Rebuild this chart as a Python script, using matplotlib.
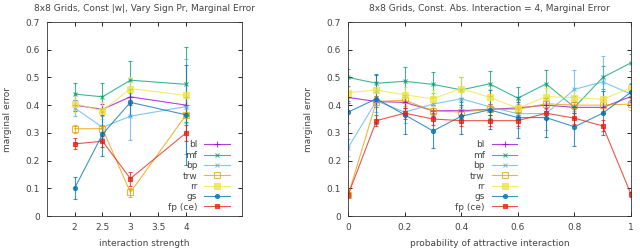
import numpy as np
import matplotlib

matplotlib.use("Agg")
import matplotlib.pyplot as plt
from matplotlib.lines import Line2D

# left panel: vary interaction strength
strength = [2, 2.5, 3, 4]
left_vals = {
    "bl": [0.400, 0.385, 0.430, 0.400],
    "mf": [0.440, 0.430, 0.490, 0.475],
    "bp": [0.390, 0.320, 0.360, 0.395],
    "trw": [0.315, 0.315, 0.085, 0.365],
    "rr": [0.405, 0.380, 0.460, 0.435],
    "gs": [0.100, 0.295, 0.410, 0.365],
    "fp (ce)": [0.260, 0.270, 0.135, 0.300],
}
left_errs = {
    "bl": [0.020, 0.020, 0.030, 0.030],
    "mf": [0.040, 0.050, 0.070, 0.135],
    "bp": [0.030, 0.040, 0.085, 0.170],
    "trw": [0.015, 0.015, 0.015, 0.030],
    "rr": [0.030, 0.030, 0.040, 0.050],
    "gs": [0.040, 0.080, 0.050, 0.180],
    "fp (ce)": [0.020, 0.020, 0.025, 0.030],
}

# right panel: vary probability of attractive interaction
prob = [0.0, 0.1, 0.2, 0.3, 0.4, 0.5, 0.6, 0.7, 0.8, 0.9, 1.0]
right_vals = {
    "bl": [0.428, 0.413, 0.410, 0.380, 0.380, 0.385, 0.390, 0.400, 0.392, 0.392, 0.431],
    "mf": [0.500, 0.479, 0.486, 0.475, 0.455, 0.477, 0.425, 0.477, 0.392, 0.500, 0.553],
    "bp": [0.247, 0.415, 0.375, 0.404, 0.423, 0.394, 0.369, 0.370, 0.457, 0.484, 0.440],
    "trw": [0.075, 0.413, 0.418, 0.379, 0.375, 0.385, 0.385, 0.405, 0.400, 0.400, 0.404],
    "rr": [0.445, 0.455, 0.437, 0.423, 0.460, 0.428, 0.389, 0.431, 0.427, 0.421, 0.463],
    "gs": [0.375, 0.423, 0.365, 0.307, 0.360, 0.383, 0.355, 0.355, 0.322, 0.371, 0.447],
    "fp (ce)": [0.076, 0.344, 0.371, 0.350, 0.344, 0.344, 0.344, 0.371, 0.353, 0.325, 0.078],
}
right_errs = {
    "bl": [0.020, 0.020, 0.020, 0.020, 0.020, 0.020, 0.020, 0.020, 0.020, 0.020, 0.020],
    "mf": [0.030, 0.030, 0.050, 0.045, 0.045, 0.045, 0.040, 0.050, 0.040, 0.040, 0.030],
    "bp": [0.030, 0.040, 0.040, 0.040, 0.040, 0.040, 0.050, 0.060, 0.070, 0.095, 0.040],
    "trw": [0.010, 0.020, 0.020, 0.020, 0.020, 0.020, 0.020, 0.020, 0.020, 0.020, 0.020],
    "rr": [0.020, 0.030, 0.030, 0.030, 0.040, 0.030, 0.030, 0.030, 0.030, 0.030, 0.030],
    "gs": [0.040, 0.090, 0.070, 0.060, 0.065, 0.070, 0.075, 0.070, 0.070, 0.080, 0.030],
    "fp (ce)": [0.010, 0.020, 0.020, 0.020, 0.020, 0.020, 0.020, 0.020, 0.020, 0.020, 0.010],
}

styles = {
    "bl": dict(color="#9400d3", marker="+", ms=4, mfc="#9400d3"),
    "mf": dict(color="#009e73", marker="x", ms=3.5, mfc="#009e73"),
    "bp": dict(color="#56b4e9", marker="x", ms=3.5, mfc="#56b4e9"),
    "trw": dict(color="#e69f00", marker="s", ms=4, mfc="none"),
    "rr": dict(color="#f0e442", marker="s", ms=4, mfc="#f0e442"),
    "gs": dict(color="#0072b2", marker="o", ms=3, mfc="#0072b2"),
    "fp (ce)": dict(color="#e51e10", marker="s", ms=2.5, mfc="#e51e10"),
}

TXT = "#444444"
plt.rcParams["font.family"] = "DejaVu Sans"
plt.rcParams["font.size"] = 6.5


def draw_panel(ax, xs, vals, errs, title, xlabel, legend_x):
    handles = []
    for name in vals:
        st = styles[name]
        ax.errorbar(xs, vals[name], yerr=errs[name], color=st["color"],
                    marker=st["marker"], ms=st["ms"], mfc=st["mfc"],
                    mec=st["color"], mew=0.8, lw=0.8, elinewidth=0.8,
                    capsize=1.5, alpha=0.75)
        handles.append(Line2D([], [], color=st["color"], marker=st["marker"],
                              ms=st["ms"], mfc=st["mfc"], mec=st["color"],
                              mew=0.8, lw=0.8, alpha=0.75, label=name))
    ax.set_ylim(0, 0.7)
    ax.set_yticks(np.arange(0, 0.71, 0.1))
    ax.set_yticklabels(["0", "0.1", "0.2", "0.3", "0.4", "0.5", "0.6", "0.7"])
    ax.set_title(title, fontsize=6.5, color=TXT, pad=8)
    ax.set_xlabel(xlabel, color=TXT, labelpad=5)
    ax.set_ylabel("marginal error", color=TXT, labelpad=10)
    ax.tick_params(direction="in", top=True, right=True, length=3,
                   width=0.6, labelcolor=TXT, pad=5)
    for sp in ax.spines.values():
        sp.set_linewidth(0.6)
        sp.set_color("#333333")
    ax.legend(handles=handles, loc="lower right",
              bbox_to_anchor=(legend_x, -0.01),
              frameon=False, markerfirst=False, handlelength=2.8,
              labelspacing=0.15, handletextpad=0.8, borderpad=0.2,
              fontsize=6.5, labelcolor=TXT)


fig = plt.figure(figsize=(6.4, 2.5), dpi=100)
ax1 = fig.add_axes([0.073, 0.136, 0.305, 0.776])
ax2 = fig.add_axes([0.544, 0.136, 0.442, 0.776])

draw_panel(ax1, strength, left_vals, left_errs,
           "8x8 Grids, Const |w|, Vary Sign Pr, Marginal Error",
           "interaction strength", 0.97)
ax1.set_xlim(1.5, 5)
ax1.set_xticks([2, 2.5, 3, 3.5, 4])
ax1.set_xticklabels(["2", "2.5", "3", "3.5", "4"])

draw_panel(ax2, prob, right_vals, right_errs,
           "8x8 Grids, Const. Abs. Interaction = 4, Marginal Error",
           "probability of attractive interaction", 0.62)
ax2.set_xlim(0, 1)
ax2.set_xticks([0, 0.2, 0.4, 0.6, 0.8, 1.0])
ax2.set_xticklabels(["0", "0.2", "0.4", "0.6", "0.8", "1"])

fig.savefig("out.png", dpi=100)
plt.close(fig)
